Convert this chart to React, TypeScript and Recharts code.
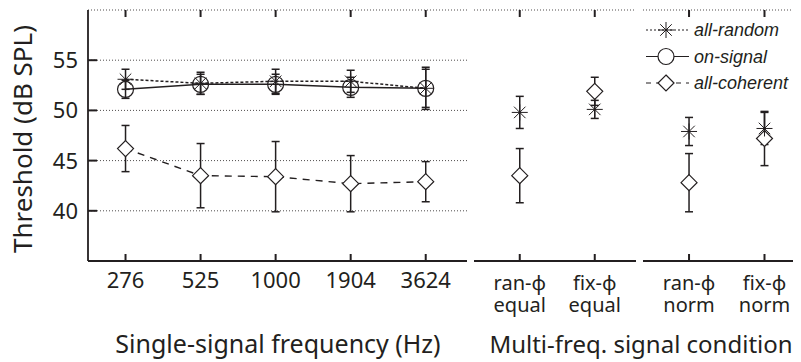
import { LineChart, Line, XAxis, YAxis, CartesianGrid, ErrorBar, Legend, ReferenceLine } from 'recharts'

const FONT = '"Noto Sans", sans-serif'
const INK = '#231f20'

// single-signal panel
const freqLabels = ['276', '525', '1000', '1904', '3624']
const singleRandom = [53.1, 52.7, 52.9, 52.9, 52.2]
const singleRandomErr = [1.0, 1.1, 1.2, 1.1, 2.1]
const singleSignal = [52.1, 52.6, 52.6, 52.3, 52.2]
const singleSignalErr = [0.9, 1.0, 1.0, 1.0, 1.9]
const singleCoherent = [46.2, 43.5, 43.4, 42.7, 42.9]
const singleCoherentErr = [2.3, 3.2, 3.5, 2.8, 2.0]

// multi-frequency panels
const phaseLabels = ['ran-ϕ', 'fix-ϕ']
const equalLabels = ['equal', 'equal']
const normLabels = ['norm', 'norm']
const equalRandom = [49.8, 50.1]
const equalRandomErr = [1.6, 0.9]
const equalCoherent = [43.5, 51.9]
const equalCoherentErr = [2.7, 1.4]
const normRandom = [47.9, 48.2]
const normRandomErr = [1.4, 1.6]
const normCoherent = [42.8, 47.2]
const normCoherentErr = [2.9, 2.7]

const yTicks = [40, 45, 50, 55]
const yDom = [35, 60]
const seriesNames = ['all-random', 'on-signal', 'all-coherent']

const singleData = freqLabels.map((f, i) => ({
  i,
  rand: singleRandom[i], randErr: singleRandomErr[i],
  sig: singleSignal[i], sigErr: singleSignalErr[i],
  coh: singleCoherent[i], cohErr: singleCoherentErr[i],
}))
const equalData = phaseLabels.map((p, i) => ({
  i, rand: equalRandom[i], randErr: equalRandomErr[i], coh: equalCoherent[i], cohErr: equalCoherentErr[i],
}))
const normData = phaseLabels.map((p, i) => ({
  i, rand: normRandom[i], randErr: normRandomErr[i], coh: normCoherent[i], cohErr: normCoherentErr[i],
}))

const axisStyle = { stroke: INK, strokeWidth: 1.8 }

function BottomLabel({ x, y, payload, labels, bottom }: any) {
  const i = payload.value
  if (!bottom) {
    return <text x={x} y={y + 27} textAnchor="middle" fill={INK} fontSize={22} fontFamily={FONT}>{labels[i]}</text>
  }
  return (
    <g>
      <text x={x} y={y + 29} textAnchor="middle" fill={INK} fontSize={20} fontFamily={FONT}>{labels[i]}</text>
      <text x={x} y={y + 51} textAnchor="middle" fill={INK} fontSize={20} fontFamily={FONT}>{bottom[i]}</text>
    </g>
  )
}

function LeftLabel({ x, y, payload }: any) {
  return <text x={x - 10} y={y + 8} textAnchor="end" fill={INK} fontSize={22} fontFamily={FONT}>{payload.value}</text>
}

// inward tick marks as short segments in data units (0.7 dB ≈ 7px)
function innerTicks(xDom: number[], xTicks: number[], leftLen: number, rightLen: number) {
  const seg = (key: string, a: any, b: any) => (
    <ReferenceLine key={key} segment={[a, b]} stroke={INK} strokeWidth={2} ifOverflow="visible" />
  )
  const out: any[] = []
  xTicks.forEach((t) => {
    out.push(seg(`b${t}`, { x: t, y: yDom[0] }, { x: t, y: yDom[0] + 0.7 }))
    out.push(seg(`t${t}`, { x: t, y: yDom[1] }, { x: t, y: yDom[1] - 0.7 }))
  })
  yTicks.forEach((v) => {
    if (leftLen) out.push(seg(`l${v}`, { x: xDom[0], y: v }, { x: xDom[0] + leftLen, y: v }))
    if (rightLen) out.push(seg(`r${v}`, { x: xDom[1], y: v }, { x: xDom[1] - rightLen, y: v }))
  })
  return out
}

function Star({ cx, cy }: any) {
  if (cx == null || cy == null) return null
  const s = 8
  const d = s * 0.72
  return (
    <g stroke={INK} strokeWidth={1}>
      <line x1={cx - s} y1={cy} x2={cx + s} y2={cy} />
      <line x1={cx} y1={cy - s} x2={cx} y2={cy + s} />
      <line x1={cx - d} y1={cy - d} x2={cx + d} y2={cy + d} />
      <line x1={cx - d} y1={cy + d} x2={cx + d} y2={cy - d} />
    </g>
  )
}

function Ring({ cx, cy }: any) {
  if (cx == null || cy == null) return null
  return <circle cx={cx} cy={cy} r={8} fill="none" stroke={INK} strokeWidth={1.2} />
}

function Diamond({ cx, cy }: any) {
  if (cx == null || cy == null) return null
  const h = 8
  return (
    <polygon
      points={`${cx},${cy - h} ${cx + h},${cy} ${cx},${cy + h} ${cx - h},${cy}`}
      fill="#fff" stroke={INK} strokeWidth={1.2}
    />
  )
}

function LegendBox() {
  const rows = [11, 37.5, 64]
  return (
    <div style={{ background: '#fff', width: 160, height: 76 }}>
      <svg width={160} height={76}>
        <line x1={2} x2={45} y1={rows[0]} y2={rows[0]} stroke={INK} strokeWidth={1.2} strokeDasharray="2 2" />
        <Star cx={22} cy={rows[0]} />
        <line x1={2} x2={45} y1={rows[1]} y2={rows[1]} stroke={INK} strokeWidth={1.2} />
        <circle cx={22} cy={rows[1]} r={8} fill="#fff" stroke={INK} strokeWidth={1.2} />
        <line x1={2} x2={45} y1={rows[2]} y2={rows[2]} stroke={INK} strokeWidth={1.2} strokeDasharray="5 5" />
        <Diamond cx={22} cy={rows[2]} />
        {seriesNames.map((n, k) => (
          <text key={n} x={50} y={rows[k] + 6} fontSize={18} fontStyle="italic"
            fontFamily='"Liberation Sans", Arial, sans-serif' fill={INK}>{n}</text>
        ))}
      </svg>
    </div>
  )
}

// frame axes (top / right) – carry a hidden series so they always have a domain
function FrameAxes({ xDomain, xTicks }: any) {
  return [
    <XAxis key="xt" xAxisId="xt" orientation="top" type="number" domain={xDomain} ticks={xTicks}
      allowDataOverflow interval={0} tick={false} tickSize={0} tickMargin={0} tickLine={false}
      axisLine={axisStyle} height={0} />,
    <YAxis key="yr" yAxisId="yr" orientation="right" type="number" domain={yDom} ticks={yTicks}
      allowDataOverflow interval={0} tick={false} tickSize={0} tickMargin={0}
      tickLine={false} axisLine={axisStyle} width={0} />,
    <Line key="hid" xAxisId="xt" yAxisId="yr" dataKey="rand" stroke="none" dot={false} activeDot={false}
      isAnimationActive={false} legendType="none" />,
  ]
}

function MultiPanel({ data, bottom, rightTicks, legend }: any) {
  const dom = [-0.61, 1.55]
  return (
    <LineChart width={170} height={362} data={data} margin={{ top: 10, right: 4, left: rightTicks ? 3 : 4, bottom: 61 }}>
      <CartesianGrid vertical={false} stroke={INK} strokeDasharray="1 2" strokeWidth={0.8} />
      <XAxis dataKey="i" type="number" domain={dom} ticks={[0, 1]} allowDataOverflow interval={0}
        axisLine={axisStyle} tickLine={false} tickSize={0} tickMargin={0} height={40}
        tick={<BottomLabel labels={phaseLabels} bottom={bottom} />} />
      <YAxis type="number" domain={yDom} ticks={yTicks} allowDataOverflow width={0}
        tick={false} tickLine={false} axisLine={axisStyle} />
      {FrameAxes({ xDomain: dom, xTicks: [0, 1] })}
      {innerTicks(dom, [0, 1], 0, rightTicks ? 0.13 : 0)}
      <Line dataKey="coh" stroke="none" isAnimationActive={false} activeDot={false}
        dot={(p: any) => <Diamond key={p.index} {...p} />}>
        <ErrorBar dataKey="cohErr" direction="y" width={4} stroke={INK} strokeWidth={1.5} />
      </Line>
      <Line dataKey="rand" stroke="none" isAnimationActive={false} activeDot={false}
        dot={(p: any) => <Star key={p.index} {...p} />}>
        <ErrorBar dataKey="randErr" direction="y" width={4} stroke={INK} strokeWidth={1.5} />
      </Line>
      {legend && (
        <Legend content={() => <LegendBox />} layout="horizontal" verticalAlign="middle" align="center"
          wrapperStyle={{ left: 4, top: 19, width: 160, height: 76 }} />
      )}
    </LineChart>
  )
}

export default function App() {
  const xDom = [-0.5, 4.55]
  const xTicks = [0, 1, 2, 3, 4]
  return (
    <div style={{ position: 'relative', width: 801, height: 362, margin: '-8px 0 0 -8px', overflow: 'hidden', background: '#fff', fontFamily: FONT }}>
      <div style={{ position: 'absolute', left: 0, top: 0 }}>
        <LineChart width={470} height={362} data={singleData} margin={{ top: 10, right: 3, left: 28, bottom: 61 }}>
          <CartesianGrid vertical={false} stroke={INK} strokeDasharray="1 2" strokeWidth={0.8} />
          <XAxis dataKey="i" type="number" domain={xDom} ticks={xTicks} allowDataOverflow interval={0}
            axisLine={axisStyle} tickLine={false} tickSize={0} tickMargin={0} height={40}
            tick={<BottomLabel labels={freqLabels} />} />
          <YAxis type="number" domain={yDom} ticks={yTicks} allowDataOverflow interval={0} width={60}
            axisLine={axisStyle} tickLine={false} tickSize={0} tickMargin={0} tick={<LeftLabel />} />
          {FrameAxes({ xDomain: xDom, xTicks })}
          {innerTicks(xDom, xTicks, 0.12, 0)}
          <Line dataKey="coh" type="linear" stroke={INK} strokeWidth={1.4} strokeDasharray="7 6"
            isAnimationActive={false} activeDot={false} dot={(p: any) => <Diamond key={p.index} {...p} />}>
            <ErrorBar dataKey="cohErr" direction="y" width={4} stroke={INK} strokeWidth={1.5} />
          </Line>
          <Line dataKey="sig" type="linear" stroke={INK} strokeWidth={1.5}
            isAnimationActive={false} activeDot={false} dot={(p: any) => <Ring key={p.index} {...p} />}>
            <ErrorBar dataKey="sigErr" direction="y" width={4} stroke={INK} strokeWidth={1.5} />
          </Line>
          <Line dataKey="rand" type="linear" stroke={INK} strokeWidth={1.5} strokeDasharray="3 2"
            isAnimationActive={false} activeDot={false} dot={(p: any) => <Star key={p.index} {...p} />}>
            <ErrorBar dataKey="randErr" direction="y" width={4} stroke={INK} strokeWidth={1.5} />
          </Line>
        </LineChart>
      </div>
      <div style={{ position: 'absolute', left: 470, top: 0 }}>
        <MultiPanel data={equalData} bottom={equalLabels} />
      </div>
      <div style={{ position: 'absolute', left: 640, top: 0 }}>
        <MultiPanel data={normData} bottom={normLabels} rightTicks legend />
      </div>
      <svg width={801} height={362} style={{ position: 'absolute', left: 0, top: 0, pointerEvents: 'none' }}
        fontFamily={FONT} fill={INK}>
        <text x={278} y={353} textAnchor="middle" fontSize={25}>Single-signal frequency (Hz)</text>
        <text x={641} y={353} textAnchor="middle" fontSize={24}>Multi-freq. signal condition</text>
        <text x={32} y={139} transform="rotate(-90 32 139)" textAnchor="middle" fontSize={26}>Threshold (dB SPL)</text>
      </svg>
    </div>
  )
}
